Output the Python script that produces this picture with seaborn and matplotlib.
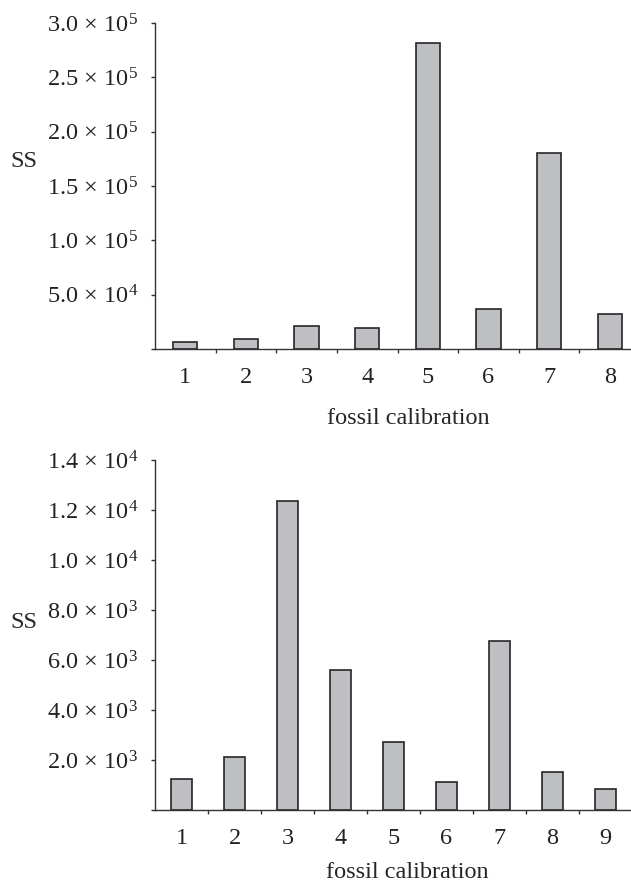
""" Bar charts of SS against fossil calibration (two panels). """

import matplotlib
matplotlib.use('Agg')
import matplotlib.pyplot as plt
import seaborn as sns

#############
# Arguments #
#############
sns.set_style('ticks')
plt.rcParams['font.family'] = ['Liberation Serif', 'DejaVu Serif']
plt.rcParams['mathtext.fontset'] = 'custom'
plt.rcParams['mathtext.rm'] = 'Liberation Serif'
plt.rcParams['mathtext.it'] = 'Liberation Serif:italic'
font_size = 17.5
bar_color = '#bebfc3'
edge_color = '#262626'
axis_color = '#333333'

########
# Data #
########
top_cal = ['1', '2', '3', '4', '5', '6', '7', '8']
top_ss = [6200, 8900, 21200, 19600, 281500, 36500, 180500, 32200]
top_ticks = [0, 50000, 100000, 150000, 200000, 250000, 300000]
top_labels = ['', r'$\mathregular{5.0\,\times\,10^{4}}$', r'$\mathregular{1.0\,\times\,10^{5}}$',
              r'$\mathregular{1.5\,\times\,10^{5}}$', r'$\mathregular{2.0\,\times\,10^{5}}$',
              r'$\mathregular{2.5\,\times\,10^{5}}$', r'$\mathregular{3.0\,\times\,10^{5}}$']

bot_cal = ['1', '2', '3', '4', '5', '6', '7', '8', '9']
bot_ss = [1230, 2110, 12360, 5610, 2730, 1130, 6750, 1510, 830]
bot_ticks = [0, 2000, 4000, 6000, 8000, 10000, 12000, 14000]
bot_labels = ['', r'$\mathregular{2.0\,\times\,10^{3}}$', r'$\mathregular{4.0\,\times\,10^{3}}$',
              r'$\mathregular{6.0\,\times\,10^{3}}$', r'$\mathregular{8.0\,\times\,10^{3}}$',
              r'$\mathregular{1.0\,\times\,10^{4}}$', r'$\mathregular{1.2\,\times\,10^{4}}$',
              r'$\mathregular{1.4\,\times\,10^{4}}$']


def draw_panel(ax, cats, vals, yticks, ylabels, ss_xy, xl_xy):
    sns.barplot(x=cats, y=vals, ax=ax, color=bar_color, saturation=1,
                edgecolor=edge_color, linewidth=1.2, width=0.4, errorbar=None)
    n = len(cats)
    ax.set_xlim(-0.5, n - 0.5)
    ax.set_ylim(yticks[0], yticks[-1])
    ax.set_yticks(yticks)
    ax.set_yticklabels(ylabels, fontsize=font_size)
    # category labels sit between the boundary ticks
    ax.set_xticks(range(n))
    ax.set_xticklabels(cats, fontsize=font_size)
    ax.set_xticks([i + 0.5 for i in range(n)], minor=True)
    ax.tick_params(axis='x', which='major', length=0, pad=13, colors='#222222')
    ax.tick_params(axis='x', which='minor', length=3, width=1, color=axis_color)
    ax.tick_params(axis='y', length=3, width=1, pad=9, color=axis_color,
                   labelcolor='#222222')
    for side in ['top', 'right']:
        ax.spines[side].set_visible(False)
    for side in ['left', 'bottom']:
        ax.spines[side].set_color(axis_color)
        ax.spines[side].set_linewidth(1)
    ax.set_ylabel('SS', rotation=0, fontsize=font_size, ha='center', va='center')
    ax.yaxis.set_label_coords(*ss_xy)
    ax.set_xlabel('fossil calibration', fontsize=font_size, va='top')
    ax.xaxis.set_label_coords(*xl_xy)


fig = plt.figure(figsize=(6.31, 8.84), dpi=100)
ax1 = fig.add_axes([155 / 631, 535 / 884, 485 / 631, 326 / 884])
ax2 = fig.add_axes([155 / 631, 74 / 884, 477 / 631, 350 / 884])

draw_panel(ax1, top_cal, top_ss, top_ticks, top_labels, (-0.27, 0.574), (0.522, -0.18))
draw_panel(ax2, bot_cal, bot_ss, bot_ticks, bot_labels, (-0.275, 0.537), (0.530, -0.148))

plt.savefig('out.png', dpi=100)
plt.close()
